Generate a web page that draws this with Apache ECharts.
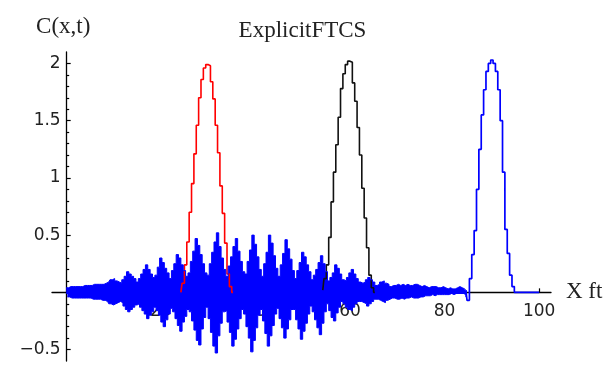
<!DOCTYPE html>
<html>
<head>
<meta charset="utf-8">
<title>ExplicitFTCS</title>
<script src="https://cdn.jsdelivr.net/npm/echarts@6/dist/echarts.min.js"></script>
<style>
  html, body { margin: 0; padding: 0; background: #fff; }
  #chart { width: 605px; height: 367px; }
</style>
</head>
<body>
<div id="chart"></div>
<script>
// Concentration profiles C(x,t) of the explicit FTCS advection scheme.
const DX = 0.5;

// Initial pulse (red), every DX ft from x = 24.25 ft
const initialStart = 24.25;
const initialC = [
  0.00, 0.08, 0.24, 0.44, 0.70, 0.95, 1.21, 1.46, 1.70, 1.86,
  1.96, 1.99, 1.98, 1.84, 1.69, 1.46, 1.22, 0.93, 0.69, 0.43,
  0.16, 0.05, 0.00
];

// Pulse after the first interval (black), every DX ft from x = 54.25 ft
const middleStart = 54.25;
const middleC = [
  0.02, 0.12, 0.24, 0.48, 0.79, 1.05, 1.29, 1.53, 1.78, 1.91,
  1.99, 2.02, 2.01, 1.83, 1.67, 1.44, 1.20, 0.91, 0.65, 0.39,
  0.15, 0.04, 0.00
];

// FTCS solution (blue), 0-85 ft: the dense oscillation swings between
// positive crests (at x = 0, 0.5, 1, ...) and negative troughs
// (at x = 0.25, 0.75, 1.25, ...)
const ftcsCrest = [
  0.04, 0.04, 0.05, 0.05, 0.05, 0.05, 0.05, 0.05, 0.06, 0.06,
  0.06, 0.06, 0.07, 0.07, 0.07, 0.07, 0.07, 0.08, 0.09, 0.11,
  0.12, 0.10, 0.09, 0.08, 0.11, 0.14, 0.18, 0.16, 0.14, 0.12,
  0.09, 0.12, 0.16, 0.20, 0.24, 0.20, 0.16, 0.13, 0.15, 0.22,
  0.30, 0.26, 0.21, 0.17, 0.12, 0.19, 0.25, 0.33, 0.30, 0.24,
  0.19, 0.14, 0.17, 0.27, 0.36, 0.47, 0.41, 0.33, 0.25, 0.17,
  0.15, 0.25, 0.35, 0.44, 0.52, 0.40, 0.30, 0.20, 0.14, 0.23,
  0.31, 0.40, 0.47, 0.36, 0.27, 0.18, 0.16, 0.27, 0.37, 0.50,
  0.42, 0.31, 0.20, 0.14, 0.25, 0.35, 0.50, 0.43, 0.32, 0.21,
  0.14, 0.24, 0.34, 0.46, 0.38, 0.29, 0.19, 0.12, 0.19, 0.26,
  0.35, 0.31, 0.24, 0.18, 0.11, 0.15, 0.20, 0.26, 0.32, 0.25,
  0.18, 0.10, 0.13, 0.17, 0.24, 0.21, 0.16, 0.11, 0.10, 0.13,
  0.17, 0.20, 0.16, 0.12, 0.09, 0.08, 0.09, 0.11, 0.13, 0.11,
  0.09, 0.06, 0.07, 0.09, 0.10, 0.08, 0.07, 0.05, 0.06, 0.06,
  0.07, 0.06, 0.07, 0.06, 0.07, 0.06, 0.06, 0.07, 0.07, 0.06,
  0.05, 0.06, 0.05, 0.04, 0.05, 0.05, 0.05, 0.04, 0.04, 0.05,
  0.04, 0.03, 0.04, 0.03, 0.03, 0.04, 0.05, 0.04, 0.03, 0.02
];
const ftcsTrough = [
  -0.04, -0.04, -0.05, -0.05, -0.05, -0.05, -0.05, -0.05, -0.05, -0.05,
  -0.05, -0.06, -0.06, -0.06, -0.06, -0.07, -0.07, -0.08, -0.10, -0.11,
  -0.10, -0.09, -0.08, -0.09, -0.12, -0.15, -0.17, -0.15, -0.13, -0.11,
  -0.10, -0.13, -0.16, -0.19, -0.23, -0.20, -0.17, -0.13, -0.16, -0.20,
  -0.26, -0.30, -0.24, -0.19, -0.14, -0.17, -0.23, -0.29, -0.34, -0.26,
  -0.21, -0.15, -0.17, -0.25, -0.33, -0.42, -0.46, -0.32, -0.22, -0.13,
  -0.23, -0.35, -0.47, -0.53, -0.38, -0.27, -0.17, -0.16, -0.26, -0.35,
  -0.47, -0.41, -0.32, -0.23, -0.15, -0.19, -0.30, -0.40, -0.52, -0.42,
  -0.31, -0.20, -0.15, -0.25, -0.36, -0.47, -0.38, -0.29, -0.19, -0.14,
  -0.23, -0.31, -0.40, -0.32, -0.24, -0.15, -0.15, -0.24, -0.32, -0.41,
  -0.34, -0.27, -0.19, -0.12, -0.17, -0.24, -0.31, -0.37, -0.27, -0.17,
  -0.10, -0.16, -0.22, -0.25, -0.18, -0.13, -0.08, -0.10, -0.13, -0.15,
  -0.16, -0.13, -0.10, -0.08, -0.08, -0.09, -0.10, -0.12, -0.10, -0.08,
  -0.06, -0.06, -0.07, -0.08, -0.09, -0.07, -0.06, -0.05, -0.05, -0.06,
  -0.06, -0.05, -0.06, -0.05, -0.05, -0.04, -0.05, -0.05, -0.05, -0.04,
  -0.04, -0.03, -0.03, -0.03, -0.02, -0.03, -0.02, -0.02, -0.02, -0.02,
  -0.02, -0.02, -0.01, -0.02, -0.01, -0.01, -0.01, -0.01, -0.02, -0.04
];

// FTCS solution (blue), 84.5-100 ft: the advected pulse, every DX ft
const pulseStart = 84.5;
const ftcsPulseC = [
  0.02, -0.07, 0.12, 0.33, 0.54, 0.90, 1.25, 1.55, 1.77, 1.93,
  2.00, 2.03, 2.00, 1.93, 1.77, 1.50, 1.05, 0.55, 0.34, 0.15,
  0.05, 0.00, 0.00, 0.00, 0.00, 0.00, 0.00, 0.00, 0.00, 0.00,
  0.00, 0.00
];

// Axis ticks and labels
const xTicks = [20, 40, 60, 80, 100];
const yTicks = [-0.5, 0.5, 1, 1.5, 2];
const yMinorTicks = [-0.4, -0.3, -0.2, -0.1, 0.1, 0.2, 0.3, 0.4,
  0.6, 0.7, 0.8, 0.9, 1.1, 1.2, 1.3, 1.4, 1.6, 1.7, 1.8, 1.9];

// Plot window
const X_MIN = -3, X_MAX = 102.5;
const Y_MIN = -0.6, Y_MAX = 2.1;
const GRID = { left: 52, right: 54, top: 52, bottom: 6 };
const W = 605, H = 367;

function toPoints(start, values) {
  return values.map((c, i) => [start + i * DX, c]);
}

const TEXT = '#222';
const SERIF = '"Liberation Serif", "Times New Roman", serif';
const SANS = '"DejaVu Sans", Verdana, sans-serif';

// Step profile; a filled profile is shaded from its curve to `base`
function profile(name, color, width, data, base) {
  const s = {
    name: name,
    type: 'line',
    step: 'middle',
    showSymbol: false,
    symbol: 'none',
    animation: false,
    lineStyle: { color: color, width: width },
    data: data
  };
  if (base !== undefined) s.areaStyle = { color: color, opacity: 1, origin: base };
  return s;
}

// Axes cross at the origin: shift them from the grid edges onto x = 0 / C = 0
const plotW = W - GRID.left - GRID.right;
const plotH = H - GRID.top - GRID.bottom;
const yAxisShift = -(0 - X_MIN) / (X_MAX - X_MIN) * plotW;
const xAxisShift = -(0 - Y_MIN) / (Y_MAX - Y_MIN) * plotH;

const chart = echarts.init(document.getElementById('chart'), null, { renderer: 'canvas' });

chart.setOption({
  animation: false,
  title: {
    text: 'ExplicitFTCS',
    left: 'center',
    top: 14,
    padding: [5, 9, 5, 5],
    textStyle: { fontFamily: SERIF, fontSize: 23, fontWeight: 'normal', color: TEXT }
  },
  grid: Object.assign({ containLabel: false, outerBoundsMode: 'none' }, GRID),
  xAxis: {
    type: 'value',
    min: X_MIN,
    max: X_MAX,
    position: 'bottom',
    offset: xAxisShift,
    name: 'X ft',
    nameLocation: 'end',
    nameGap: 15,
    nameTextStyle: { fontFamily: SERIF, fontSize: 23, color: TEXT },
    axisLine: { onZero: false, lineStyle: { color: '#000', width: 1.3 } },
    axisTick: { inside: true, length: 4, customValues: xTicks, lineStyle: { color: '#000', width: 1.2 } },
    axisLabel: { customValues: xTicks, fontFamily: SANS, fontSize: 17, color: TEXT, margin: 11 },
    splitLine: { show: false }
  },
  yAxis: [
    {
      type: 'value',
      min: Y_MIN,
      max: Y_MAX,
      position: 'left',
      offset: yAxisShift,
      name: 'C(x,t)',
      nameLocation: 'end',
      nameGap: 14,
      nameTextStyle: { fontFamily: SERIF, fontSize: 23, color: TEXT, padding: [0, 6, 0, 0] },
      axisLine: { onZero: false, lineStyle: { color: '#000', width: 1.3 } },
      axisTick: { inside: true, length: 4.5, customValues: yTicks, lineStyle: { color: '#000', width: 1.2 } },
      axisLabel: {
        customValues: yTicks,
        fontFamily: SANS, fontSize: 17, color: TEXT, margin: 5.5,
        formatter: v => String(v).replace('-', '\u2212')
      },
      splitLine: { show: false }
    },
    {
      type: 'value',
      min: Y_MIN,
      max: Y_MAX,
      position: 'left',
      offset: yAxisShift,
      axisLine: { show: false, onZero: false },
      axisTick: { inside: true, length: 3, customValues: yMinorTicks, lineStyle: { color: '#000', width: 1.2 } },
      axisLabel: { show: false },
      splitLine: { show: false }
    }
  ],
  series: [
    profile('initial', '#ff0000', 1.6, toPoints(initialStart, initialC)),
    profile('middle', '#111111', 1.6, toPoints(middleStart, middleC)),
    // crest and trough shading overlap slightly across C = 0 so no seam shows
    profile('FTCS crests', '#0000ff', 1, toPoints(0, ftcsCrest), -0.015),
    profile('FTCS troughs', '#0000ff', 1, toPoints(DX / 2, ftcsTrough), 0.015),
    profile('FTCS pulse', '#0000ff', 1.7, toPoints(pulseStart, ftcsPulseC))
  ]
});
</script>
</body>
</html>
